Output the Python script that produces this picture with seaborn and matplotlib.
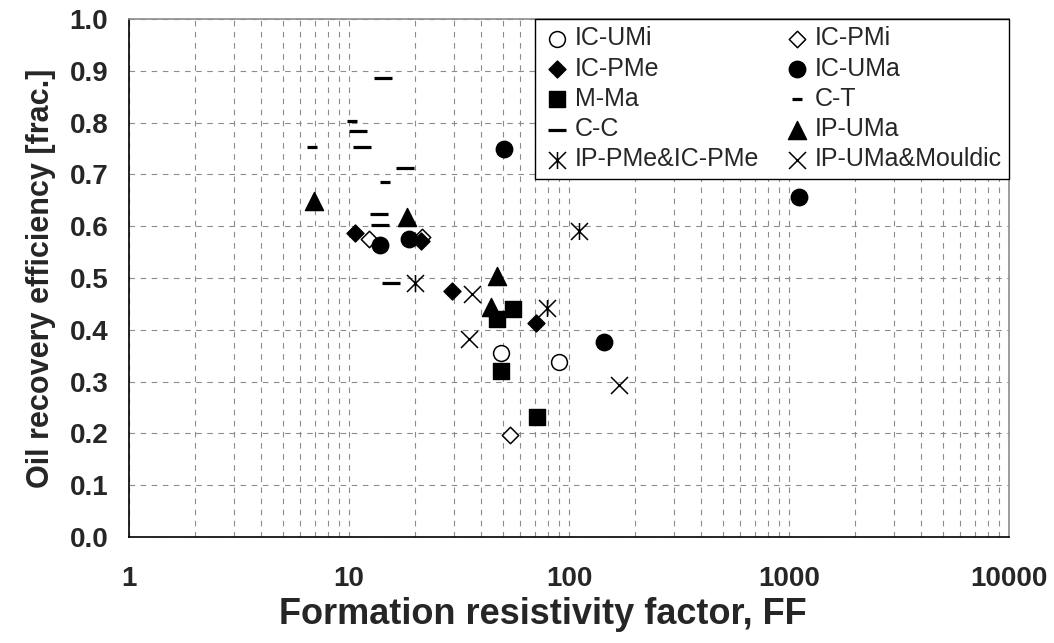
import numpy as np
import pandas as pd
import matplotlib
matplotlib.use("Agg")
import matplotlib.pyplot as plt
from matplotlib.path import Path
from matplotlib.ticker import LogLocator, FixedLocator, FuncFormatter
import seaborn as sns

# Dados (FF, eficiência de recuperação)
ic_umi_x = [49.1, 90.1]
ic_umi_y = [0.355, 0.338]
ic_pmi_x = [12.3, 21.5, 53.9]
ic_pmi_y = [0.575, 0.579, 0.197]
ic_pme_x = [10.6, 21.2, 29.4, 70.8]
ic_pme_y = [0.587, 0.572, 0.475, 0.413]
ic_uma_x = [13.8, 18.7, 50.7, 144, 1110]
ic_uma_y = [0.564, 0.575, 0.749, 0.376, 0.656]
m_ma_x = [47.1, 55.6, 49.1, 71.6]
m_ma_y = [0.421, 0.440, 0.320, 0.232]
c_t_x = [6.8, 10.3, 14.6]
c_t_y = [0.753, 0.803, 0.685]
c_c_x = [14.3, 11.0, 11.5, 18.0, 13.7, 13.9, 15.5]
c_c_y = [0.886, 0.784, 0.753, 0.712, 0.624, 0.602, 0.490]
ip_uma_x = [6.9, 18.4, 47.1, 44.2]
ip_uma_y = [0.649, 0.618, 0.504, 0.444]
ip_pme_x = [20.0, 79.4, 111]
ip_pme_y = [0.490, 0.442, 0.591]
ip_mould_x = [36.2, 35.1, 169]
ip_mould_y = [0.469, 0.382, 0.293]

y_ticks = [0.0, 0.1, 0.2, 0.3, 0.4, 0.5, 0.6, 0.7, 0.8, 0.9, 1.0]
x_ticks = [1, 10, 100, 1000, 10000]

# asterisco: linha vertical + X
asterisco = Path([(0, -1), (0, 1), (-1, -1), (1, 1), (-1, 1), (1, -1)],
                 [Path.MOVETO, Path.LINETO, Path.MOVETO, Path.LINETO, Path.MOVETO, Path.LINETO])

grupos = [
    ("IC-UMi", ic_umi_x, ic_umi_y, dict(marker="o", s=130, color="white", edgecolor="black", linewidth=1.1)),
    ("IC-PMi", ic_pmi_x, ic_pmi_y, dict(marker="D", s=70, color="white", edgecolor="black", linewidth=1.1)),
    ("IC-PMe", ic_pme_x, ic_pme_y, dict(marker="D", s=75, color="black", edgecolor="black", linewidth=1)),
    ("IC-UMa", ic_uma_x, ic_uma_y, dict(marker="o", s=140, color="black", edgecolor="black", linewidth=1)),
    ("M-Ma", m_ma_x, m_ma_y, dict(marker="s", s=130, color="black", edgecolor="black", linewidth=1)),
    ("C-T", c_t_x, c_t_y, dict(marker="_", s=50, color="black", linewidth=2.3)),
    ("C-C", c_c_x, c_c_y, dict(marker="_", s=170, color="black", linewidth=2.3)),
    ("IP-UMa", ip_uma_x, ip_uma_y, dict(marker="^", s=170, color="black", edgecolor="black", linewidth=1)),
    ("IP-PMe&IC-PMe", ip_pme_x, ip_pme_y, dict(marker=asterisco, s=150, color="black", edgecolor="black", linewidth=1.1)),
    ("IP-UMa&Mouldic", ip_mould_x, ip_mould_y, dict(marker="x", s=150, color="black", linewidth=1.1)),
]

sns.set_style("white")
plt.rcParams['font.family'] = ['Liberation Sans', 'DejaVu Sans']

fig = plt.figure(figsize=(10.54, 6.43), dpi=100)
ax = fig.add_axes([0.1224, 0.1649, 0.8349, 0.8056])

for nome, xs, ys, estilo in grupos:
    df = pd.DataFrame({"FF": xs, "Eficiencia": ys})
    sns.scatterplot(data=df, x="FF", y="Eficiencia", ax=ax, label=nome, zorder=3, **estilo)

ax.set_xscale("log")
ax.set_xlim(1, 10000)
ax.set_ylim(0, 1)
ax.xaxis.set_major_locator(FixedLocator(x_ticks))
ax.xaxis.set_major_formatter(FuncFormatter(lambda v, p: f"{int(round(v))}"))
ax.xaxis.set_minor_locator(LogLocator(base=10, subs=np.arange(2, 10), numticks=20))
ax.yaxis.set_major_locator(FixedLocator(y_ticks))
ax.yaxis.set_major_formatter(FuncFormatter(lambda v, p: f"{v:.1f}"))

ax.grid(True, which="major", axis="both", color="#8c8c8c", linestyle=(0, (5, 5)), linewidth=0.8)
ax.grid(True, which="minor", axis="x", color="#8c8c8c", linestyle=(0, (5, 5)), linewidth=0.8)
ax.set_axisbelow(True)

ax.tick_params(axis="both", which="major", direction="out", length=7, width=1, color="black")
ax.tick_params(axis="x", which="minor", length=0)
ax.tick_params(axis="x", which="major", labelsize=20, pad=14)
ax.tick_params(axis="y", which="major", labelsize=20, pad=8)
for t in ax.get_xticklabels() + ax.get_yticklabels():
    t.set_fontweight("bold")

for lado in ["left", "bottom"]:
    ax.spines[lado].set_color("black")
    ax.spines[lado].set_linewidth(1.2)
for lado in ["top", "right"]:
    ax.spines[lado].set_color("#8c8c8c")
    ax.spines[lado].set_linewidth(1.2)

ax.set_xlabel("Formation resistivity factor, FF", fontsize=26, fontweight="bold")
ax.xaxis.set_label_coords(0.47, -0.115)
ax.set_ylabel("Oil recovery efficiency [frac.]", fontsize=22, fontweight="bold", labelpad=10)

# legenda em 2 colunas, preenchida por linhas
handles, labels = ax.get_legend_handles_labels()
ordem = [0, 2, 4, 6, 8, 1, 3, 5, 7, 9]
leg = ax.legend([handles[i] for i in ordem], [labels[i] for i in ordem], ncol=2,
                loc="upper right", bbox_to_anchor=(1.0, 1.0), borderaxespad=0,
                fontsize=18, frameon=True, fancybox=False, framealpha=1,
                edgecolor="black", handletextpad=0.1, handlelength=1.2,
                columnspacing=0.9, labelspacing=0.25, borderpad=0.3)
leg.get_frame().set_linewidth(1)

fig.savefig("out.png", dpi=100)
plt.close()
